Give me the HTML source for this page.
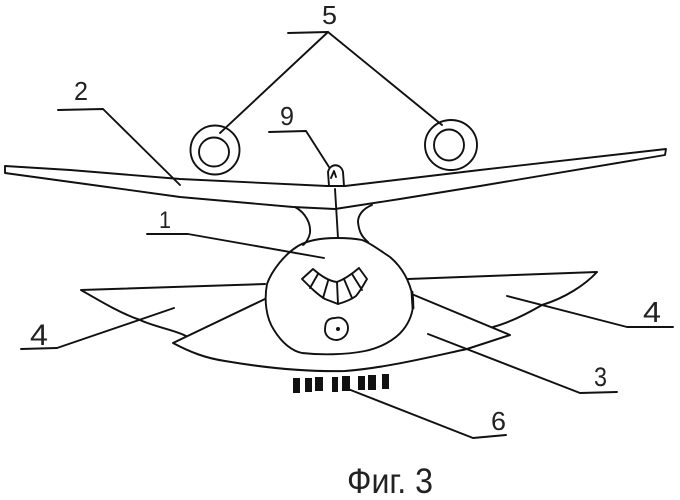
<!DOCTYPE html>
<html>
<head>
<meta charset="utf-8">
<style>
html,body{margin:0;padding:0;background:#fff;width:680px;height:500px;overflow:hidden}
svg{display:block}
text{font-family:"Liberation Sans",sans-serif;fill:#222}
</style>
</head>
<body>
<svg width="680" height="500" viewBox="0 0 680 500" xmlns="http://www.w3.org/2000/svg">
<g fill="none" stroke="#111" stroke-width="1.9" stroke-linecap="round" stroke-linejoin="round">
<!-- wing -->
<path d="M5 166 L5 173 L100 186 L180 197 L293 207 L335 209 L400 199 L480 186 L665 155 L666 149 L480 170 L345 186 L327 186 L180 179 L70 170 Z"/>
<!-- pylons and centre strut -->
<path d="M295 207 C306 213 311 224 310 233 C309 238 306 243 303 245"/>
<path d="M372 205 C362 209 358 216 358 222 C359 232 362 237 368 242"/>
<path d="M335 189 L338 238"/>
<!-- fin -->
<path d="M329 186 L328 172 C330 163 341 163 343 172 L344 186"/>
<path d="M331 178 L334 171 L336 177"/>
<!-- engines -->
<ellipse cx="215" cy="150" rx="24.5" ry="24.5"/>
<ellipse cx="214" cy="152" rx="15" ry="14.5"/>
<ellipse cx="451" cy="145" rx="26" ry="25"/>
<ellipse cx="449" cy="145" rx="15" ry="15.5"/>
<!-- body -->
<path d="M337 238 C322 238 308 240 298 246 C285 254 272 270 267 284 C264 300 266 318 274 330 C282 343 292 351 302 353 C320 355 345 355 365 351 C380 348 395 340 403 330 C411 320 414 310 413 298 C410 282 403 268 390 257 C378 249 370 243 362 240 C352 238 345 238 337 238 Z"/>
<path d="M412 292 L413 308" stroke-width="2.8"/>
<!-- cockpit window -->
<path d="M313 269 L302 279 C310 287 318 295 325 299 L338 304 C345 302 352 299 356 296 C361 290 364 284 367 279 L359 268 C352 274 345 279 337 282 C328 281 320 275 313 269 Z"/>
<path d="M318 274 L310 288"/>
<path d="M328 281 L323 298"/>
<path d="M337 282 L338 304"/>
<path d="M344 279 L352 298"/>
<path d="M352 274 L362 290"/>
<!-- nose gear circle -->
<path d="M335 318 C325 318 325 326 325 331 C326 337 331 340 337 340 C344 339 348 334 348 328 C348 322 343 316 335 318 Z"/>
<!-- upper tailplanes -->
<path d="M265 284 L81 290 C100 301 120 313 140 320 C155 327 175 330 186 336" stroke-width="2"/>
<path d="M408 279 L597 272 C585 285 565 298 542 305 C530 312 512 322 493 327" stroke-width="2"/>
<!-- lower tailplane -->
<path d="M265 299 L173 343 C190 352 205 358 225 361 C260 367 300 372 345 371 C385 368 430 357 467 349 L510 335 L414 295" stroke-width="2"/>
<!-- leaders -->
<path d="M288 33 L328 32 L220 133"/>
<path d="M328 32 L442 125"/>
<path d="M58 110 L103 109 L180 185"/>
<path d="M269 132 L306 131 L329 167"/>
<path d="M147 234 L188 234 L324 258"/>
<path d="M21 349 L57 348 L174 308"/>
<path d="M507 296 L627 327 L673 327"/>
<path d="M428 334 L580 393 L617 392"/>
<path d="M348 389 L473 438 L506 435"/>
</g>
<!-- nose gear dot -->
<circle cx="338" cy="329" r="2" fill="#111"/>
<!-- belly blocks -->
<g fill="#111">
<rect x="293" y="378" width="7" height="15"/>
<rect x="305" y="378" width="7" height="14"/>
<rect x="315" y="377" width="8" height="14"/>
<rect x="332" y="377" width="6" height="15"/>
<rect x="342" y="376" width="8" height="15"/>
<rect x="358" y="376" width="7" height="14"/>
<rect x="368" y="375" width="8" height="15"/>
<rect x="382" y="374" width="7" height="15"/>
</g>
<!-- labels -->
<text x="322" y="24" font-size="26" textLength="15" lengthAdjust="spacingAndGlyphs">5</text>
<text x="74" y="100" font-size="26" textLength="14" lengthAdjust="spacingAndGlyphs">2</text>
<text x="280" y="125" font-size="26" textLength="14" lengthAdjust="spacingAndGlyphs">9</text>
<text x="159" y="228" font-size="24" textLength="12" lengthAdjust="spacingAndGlyphs">1</text>
<text x="30" y="345" font-size="30" textLength="18" lengthAdjust="spacingAndGlyphs">4</text>
<text x="643" y="322" font-size="29" textLength="18" lengthAdjust="spacingAndGlyphs">4</text>
<text x="594" y="386" font-size="27" textLength="13" lengthAdjust="spacingAndGlyphs">3</text>
<text x="491" y="430" font-size="26" textLength="15" lengthAdjust="spacingAndGlyphs">6</text>
<text x="347" y="493" font-size="35" textLength="86" lengthAdjust="spacingAndGlyphs">Фиг. 3</text>
</svg>
</body>
</html>
